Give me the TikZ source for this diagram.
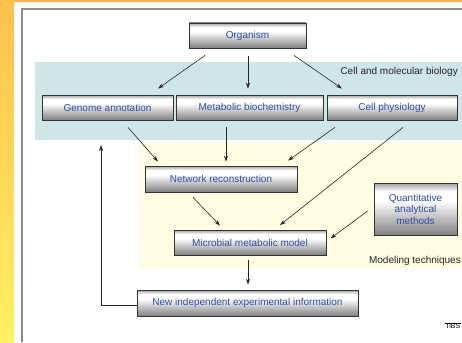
\documentclass[tikz,border=0pt]{standalone}
\usepackage{fontspec}
\setmainfont{Liberation Sans}
\usetikzlibrary{arrows.meta,calc}
\definecolor{boxtext}{RGB}{45,75,170}
\definecolor{tealbg}{RGB}{206,230,230}
\definecolor{yelbg}{RGB}{255,252,225}
\definecolor{orA}{RGB}{255,192,76}
\definecolor{orB}{RGB}{255,240,100}
\definecolor{orTop}{RGB}{255,176,72}
\pgfdeclareverticalshading{boxsh}{100bp}{color(0bp)=(black!50); color(25bp)=(black!50); color(58bp)=(white); color(67bp)=(white); color(75bp)=(black!38); color(100bp)=(black!38)}
\tikzset{
  gbox/.style={draw=black!80, line width=0.8pt, shading=boxsh, text=boxtext, font=\fontsize{10}{11.5}\selectfont,
    inner sep=0pt, align=center},
  conn/.style={draw=black!85, line width=0.6pt, -{Stealth[length=6pt,width=4pt]}},
  lbl/.style={font=\fontsize{10}{12}\selectfont, text=black!85, inner sep=0pt}
}
\begin{document}
\begin{tikzpicture}[x=1pt,y=-1pt]
\useasboundingbox (0,0) rectangle (462,342);
% page frame
\fill[white] (0,0) rectangle (462,342);
\shade[top color=orA, bottom color=orB] (0,0) rectangle (14,342);
\fill[orTop] (14,0) rectangle (462,2.2);
\draw[black!45, line width=2pt] (22,342) -- (22,9.5) -- (462,9.5);
% backgrounds
\fill[tealbg] (35,62) rectangle (462,140);
\fill[yelbg] (139,143) rectangle (462,268);
\node[lbl, anchor=east] (cmb) at (458,72) {Cell and molecular biology};
\node[lbl, anchor=east] (mt) at (461,261) {Modeling techniques};
\node[font=\fontsize{7}{8}\selectfont, inner sep=0.5pt, anchor=east] (tibs) at (461,326) {TiBS};
\draw[line width=0.4pt] (tibs.north west) -- (tibs.north east);
% boxes
\node[gbox, minimum width=117pt, minimum height=25pt] (org) at (247.5,35.5) {Organism};
\node[gbox, minimum width=131pt, minimum height=25pt] (gen) at (107.5,107.5) {Genome annotation};
\node[gbox, minimum width=147pt, minimum height=25pt] (met) at (249.5,107.5) {Metabolic biochemistry};
\node[gbox, minimum width=130pt, minimum height=25pt] (cell) at (392,107.5) {Cell physiology};
\node[gbox, minimum width=152pt, minimum height=26pt] (net) at (221,179) {Network reconstruction};
\node[gbox, minimum width=83pt, minimum height=52pt] (quant) at (415.5,209) {Quantitative\\analytical\\methods};
\node[gbox, minimum width=152pt, minimum height=25pt] (mic) at (250,242.5) {Microbial metabolic model};
\node[gbox, minimum width=221pt, minimum height=26pt] (new) at (247.5,303) {New independent experimental information};
% connectors
\draw[conn] ($(org.south)+(-42.5,7)$) -- ($(gen.north)+(50.5,-6)$);
\draw[conn] ($(org.south)+(0.5,8)$) -- ($(met.north)+(-1.5,-6)$);
\draw[conn] ($(org.south)+(46.5,7)$) -- ($(cell.north)+(-50,-6)$);
\draw[conn] ($(gen.south)+(20.5,7)$) -- ($(net.north)+(-63,-4)$);
\draw[conn] ($(met.south)+(-23.5,7)$) -- ($(net.north)+(5,-4)$);
\draw[conn] ($(cell.south)+(-57,7)$) -- ($(net.north)+(67,-5)$);
\draw[conn] ($(cell.south)+(11,7)$) -- ($(mic.north)+(30,-4.5)$);
\draw[conn] ($(net.south)+(-28,5)$) -- ($(mic.north)+(-30,-4)$);
\draw[conn] ($(quant.west)+(-6,2)$) -- ($(mic.east)+(4,-4)$);
\draw[conn] ($(mic.south)+(-2,5)$) -- ($(new.north)+(0.5,-5)$);
\coordinate (fb) at (101,145);
\draw[conn] ($(new.west)+(0,2)$) -| (fb);
\end{tikzpicture}
\end{document}
